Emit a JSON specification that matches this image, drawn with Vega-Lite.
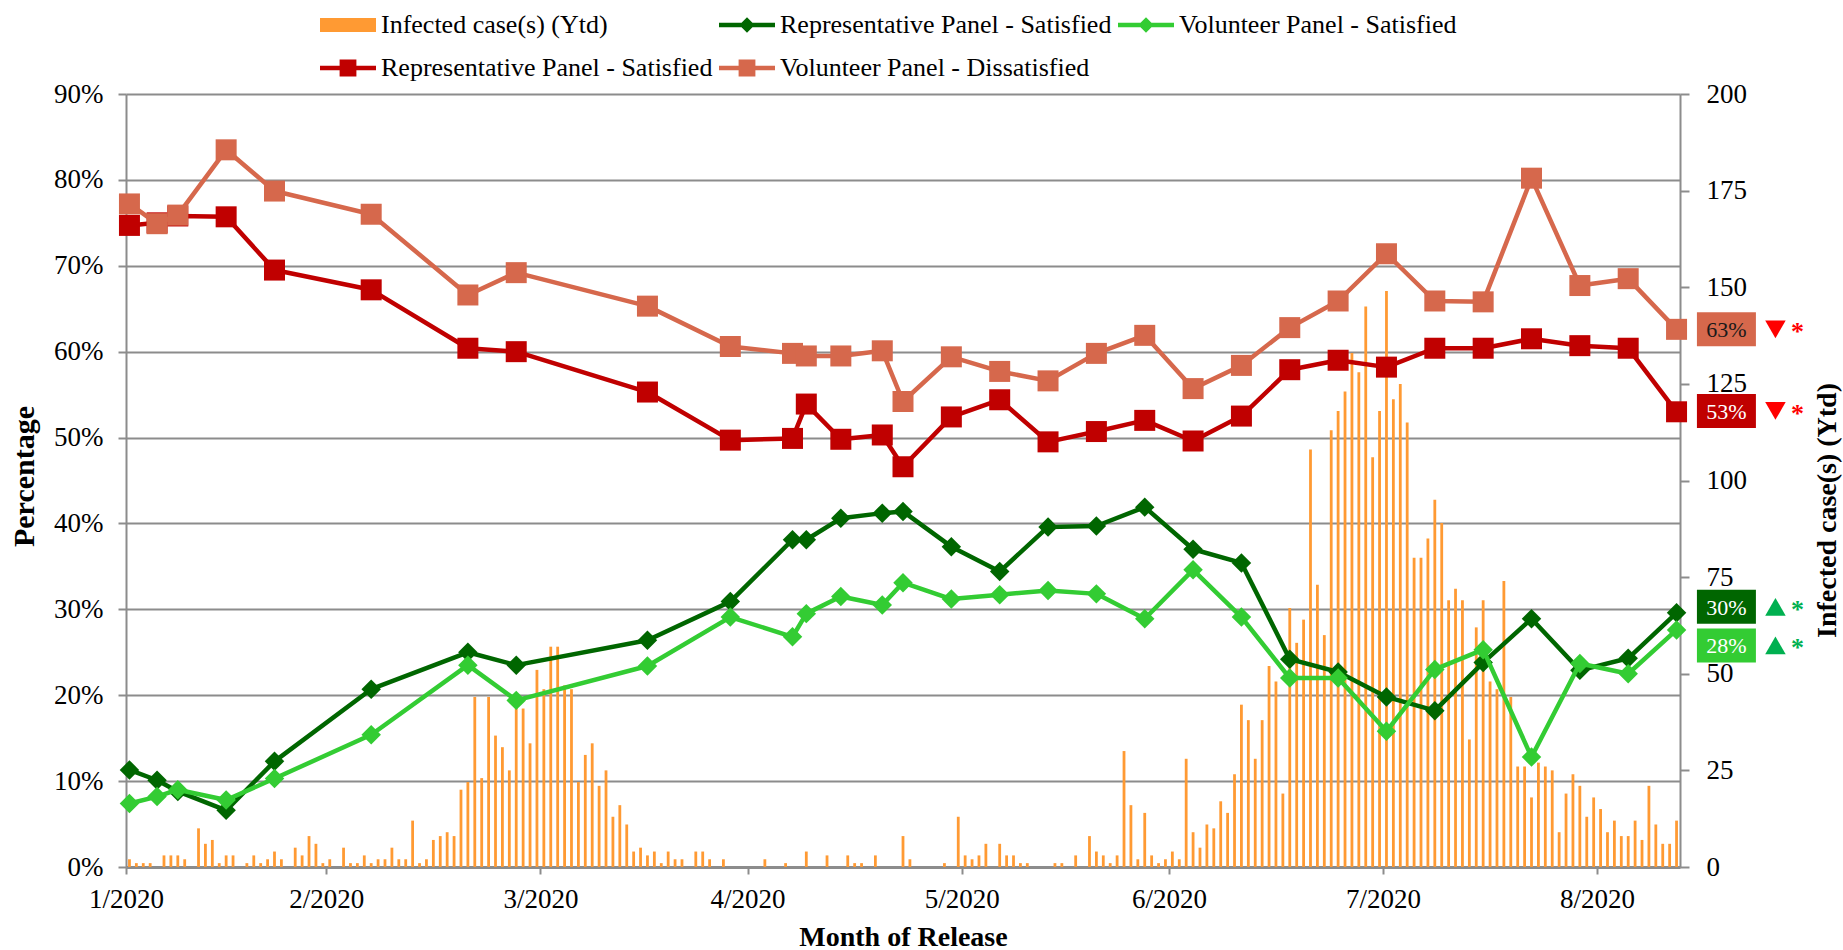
{
"$schema": "https://vega.github.io/schema/vega-lite/v6.json",
"width": 1554,
"height": 773,
"autosize": {"type": "none"},
"padding": {"left": 126, "top": 94, "right": 163, "bottom": 83},
"background": "#ffffff",
"config": {
  "view": {"stroke": null},
  "font": "Liberation Serif",
  "axis": {"labelFont": "Liberation Serif", "titleFont": "Liberation Serif", "labelColor": "#000000", "titleColor": "#000000", "labelFontSize": 27, "titleFontSize": 28, "titleFontWeight": "bold", "labelFlush": false, "labelOverlap": false, "labelBound": false, "domainColor": "#8C8C8C", "tickColor": "#8C8C8C", "gridColor": "#8C8C8C"},
  "legend": {"labelFont": "Liberation Serif"},
  "text": {"font": "Liberation Serif"}
},
"datasets": {
"cases": [
{"date":"2020-01-31","cases":2},{"date":"2020-02-01","cases":1},{"date":"2020-02-02","cases":1},{"date":"2020-02-03","cases":1},{"date":"2020-02-05","cases":3},{"date":"2020-02-06","cases":3},{"date":"2020-02-07","cases":3},{"date":"2020-02-08","cases":2},{"date":"2020-02-10","cases":10},{"date":"2020-02-11","cases":6},{"date":"2020-02-12","cases":7},{"date":"2020-02-13","cases":1},{"date":"2020-02-14","cases":3},{"date":"2020-02-15","cases":3},{"date":"2020-02-17","cases":1},{"date":"2020-02-18","cases":3},{"date":"2020-02-19","cases":1},{"date":"2020-02-20","cases":2},{"date":"2020-02-21","cases":4},{"date":"2020-02-22","cases":2},{"date":"2020-02-24","cases":5},{"date":"2020-02-25","cases":3},{"date":"2020-02-26","cases":8},{"date":"2020-02-27","cases":6},{"date":"2020-02-28","cases":1},{"date":"2020-02-29","cases":2},
{"date":"2020-03-02","cases":5},{"date":"2020-03-03","cases":1},{"date":"2020-03-04","cases":1},{"date":"2020-03-05","cases":3},{"date":"2020-03-06","cases":1},{"date":"2020-03-07","cases":2},{"date":"2020-03-08","cases":2},{"date":"2020-03-09","cases":5},{"date":"2020-03-10","cases":2},{"date":"2020-03-11","cases":2},{"date":"2020-03-12","cases":12},{"date":"2020-03-13","cases":1},{"date":"2020-03-14","cases":2},{"date":"2020-03-15","cases":7},{"date":"2020-03-16","cases":8},{"date":"2020-03-17","cases":9},{"date":"2020-03-18","cases":8},{"date":"2020-03-19","cases":20},{"date":"2020-03-20","cases":22},{"date":"2020-03-21","cases":44},{"date":"2020-03-22","cases":23},{"date":"2020-03-23","cases":44},{"date":"2020-03-24","cases":34},{"date":"2020-03-25","cases":31},{"date":"2020-03-26","cases":25},{"date":"2020-03-27","cases":44},{"date":"2020-03-28","cases":41},{"date":"2020-03-29","cases":32},{"date":"2020-03-30","cases":51},{"date":"2020-03-31","cases":46},
{"date":"2020-04-01","cases":57},{"date":"2020-04-02","cases":57},{"date":"2020-04-03","cases":47},{"date":"2020-04-04","cases":46},{"date":"2020-04-05","cases":22},{"date":"2020-04-06","cases":29},{"date":"2020-04-07","cases":32},{"date":"2020-04-08","cases":21},{"date":"2020-04-09","cases":25},{"date":"2020-04-10","cases":13},{"date":"2020-04-11","cases":16},{"date":"2020-04-12","cases":11},{"date":"2020-04-13","cases":4},{"date":"2020-04-14","cases":5},{"date":"2020-04-15","cases":3},{"date":"2020-04-16","cases":4},{"date":"2020-04-17","cases":1},{"date":"2020-04-18","cases":4},{"date":"2020-04-19","cases":2},{"date":"2020-04-20","cases":2},{"date":"2020-04-22","cases":4},{"date":"2020-04-23","cases":4},{"date":"2020-04-24","cases":2},{"date":"2020-04-26","cases":2},
{"date":"2020-05-02","cases":2},{"date":"2020-05-05","cases":1},{"date":"2020-05-08","cases":4},{"date":"2020-05-11","cases":3},{"date":"2020-05-14","cases":3},{"date":"2020-05-15","cases":1},{"date":"2020-05-16","cases":1},{"date":"2020-05-18","cases":3},{"date":"2020-05-22","cases":8},{"date":"2020-05-23","cases":2},{"date":"2020-05-28","cases":1},{"date":"2020-05-30","cases":13},{"date":"2020-05-31","cases":3},
{"date":"2020-06-01","cases":2},{"date":"2020-06-02","cases":3},{"date":"2020-06-03","cases":6},{"date":"2020-06-05","cases":6},{"date":"2020-06-06","cases":3},{"date":"2020-06-07","cases":3},{"date":"2020-06-08","cases":1},{"date":"2020-06-09","cases":1},{"date":"2020-06-13","cases":1},{"date":"2020-06-14","cases":1},{"date":"2020-06-16","cases":3},{"date":"2020-06-18","cases":8},{"date":"2020-06-19","cases":4},{"date":"2020-06-20","cases":3},{"date":"2020-06-21","cases":1},{"date":"2020-06-22","cases":3},{"date":"2020-06-23","cases":30},{"date":"2020-06-24","cases":16},{"date":"2020-06-25","cases":2},{"date":"2020-06-26","cases":14},{"date":"2020-06-27","cases":3},{"date":"2020-06-28","cases":1},{"date":"2020-06-29","cases":2},{"date":"2020-06-30","cases":4},
{"date":"2020-07-01","cases":2},{"date":"2020-07-02","cases":28},{"date":"2020-07-03","cases":9},{"date":"2020-07-04","cases":5},{"date":"2020-07-05","cases":11},{"date":"2020-07-06","cases":10},{"date":"2020-07-07","cases":17},{"date":"2020-07-08","cases":14},{"date":"2020-07-09","cases":24},{"date":"2020-07-10","cases":42},{"date":"2020-07-11","cases":38},{"date":"2020-07-12","cases":28},{"date":"2020-07-13","cases":38},{"date":"2020-07-14","cases":52},{"date":"2020-07-15","cases":48},{"date":"2020-07-16","cases":19},{"date":"2020-07-17","cases":67},{"date":"2020-07-18","cases":58},{"date":"2020-07-19","cases":64},{"date":"2020-07-20","cases":108},{"date":"2020-07-21","cases":73},{"date":"2020-07-22","cases":60},{"date":"2020-07-23","cases":113},{"date":"2020-07-24","cases":118},{"date":"2020-07-25","cases":123},{"date":"2020-07-26","cases":133},{"date":"2020-07-27","cases":128},{"date":"2020-07-28","cases":145},{"date":"2020-07-29","cases":106},{"date":"2020-07-30","cases":118},{"date":"2020-07-31","cases":149},
{"date":"2020-08-01","cases":121},{"date":"2020-08-02","cases":125},{"date":"2020-08-03","cases":115},{"date":"2020-08-04","cases":80},{"date":"2020-08-05","cases":80},{"date":"2020-08-06","cases":85},{"date":"2020-08-07","cases":95},{"date":"2020-08-08","cases":89},{"date":"2020-08-09","cases":69},{"date":"2020-08-10","cases":72},{"date":"2020-08-11","cases":69},{"date":"2020-08-12","cases":33},{"date":"2020-08-13","cases":62},{"date":"2020-08-14","cases":69},{"date":"2020-08-15","cases":48},{"date":"2020-08-16","cases":46},{"date":"2020-08-17","cases":74},{"date":"2020-08-18","cases":44},{"date":"2020-08-19","cases":26},{"date":"2020-08-20","cases":26},{"date":"2020-08-21","cases":18},{"date":"2020-08-22","cases":27},{"date":"2020-08-23","cases":26},{"date":"2020-08-24","cases":25},{"date":"2020-08-25","cases":9},{"date":"2020-08-26","cases":19},{"date":"2020-08-27","cases":24},{"date":"2020-08-28","cases":21},{"date":"2020-08-29","cases":13},{"date":"2020-08-30","cases":18},{"date":"2020-08-31","cases":15},
{"date":"2020-09-01","cases":9},{"date":"2020-09-02","cases":12},{"date":"2020-09-03","cases":8},{"date":"2020-09-04","cases":8},{"date":"2020-09-05","cases":12},{"date":"2020-09-06","cases":7},{"date":"2020-09-07","cases":21},{"date":"2020-09-08","cases":11},{"date":"2020-09-09","cases":6},{"date":"2020-09-10","cases":6},{"date":"2020-09-11","cases":12}
],
"survey": [
{"date":"2020-01-31","series":"Representative Panel - Satisfied","pct":11.3},{"date":"2020-02-04","series":"Representative Panel - Satisfied","pct":10.1},{"date":"2020-02-07","series":"Representative Panel - Satisfied","pct":8.8},{"date":"2020-02-14","series":"Representative Panel - Satisfied","pct":6.6},{"date":"2020-02-21","series":"Representative Panel - Satisfied","pct":12.3},{"date":"2020-03-06","series":"Representative Panel - Satisfied","pct":20.7},{"date":"2020-03-20","series":"Representative Panel - Satisfied","pct":25.0},{"date":"2020-03-27","series":"Representative Panel - Satisfied","pct":23.5},{"date":"2020-04-15","series":"Representative Panel - Satisfied","pct":26.4},{"date":"2020-04-27","series":"Representative Panel - Satisfied","pct":30.9},{"date":"2020-05-06","series":"Representative Panel - Satisfied","pct":38.1},{"date":"2020-05-08","series":"Representative Panel - Satisfied","pct":38.1},{"date":"2020-05-13","series":"Representative Panel - Satisfied","pct":40.6},{"date":"2020-05-19","series":"Representative Panel - Satisfied","pct":41.2},{"date":"2020-05-22","series":"Representative Panel - Satisfied","pct":41.4},{"date":"2020-05-29","series":"Representative Panel - Satisfied","pct":37.3},{"date":"2020-06-05","series":"Representative Panel - Satisfied","pct":34.4},{"date":"2020-06-12","series":"Representative Panel - Satisfied","pct":39.6},{"date":"2020-06-19","series":"Representative Panel - Satisfied","pct":39.7},{"date":"2020-06-26","series":"Representative Panel - Satisfied","pct":41.9},{"date":"2020-07-03","series":"Representative Panel - Satisfied","pct":37.0},{"date":"2020-07-10","series":"Representative Panel - Satisfied","pct":35.4},{"date":"2020-07-17","series":"Representative Panel - Satisfied","pct":24.2},{"date":"2020-07-24","series":"Representative Panel - Satisfied","pct":22.7},{"date":"2020-07-31","series":"Representative Panel - Satisfied","pct":19.8},{"date":"2020-08-07","series":"Representative Panel - Satisfied","pct":18.2},{"date":"2020-08-14","series":"Representative Panel - Satisfied","pct":23.8},{"date":"2020-08-21","series":"Representative Panel - Satisfied","pct":28.9},{"date":"2020-08-28","series":"Representative Panel - Satisfied","pct":22.9},{"date":"2020-09-04","series":"Representative Panel - Satisfied","pct":24.3},{"date":"2020-09-11","series":"Representative Panel - Satisfied","pct":29.6},
{"date":"2020-01-31","series":"Volunteer Panel - Satisfied","pct":7.4},{"date":"2020-02-04","series":"Volunteer Panel - Satisfied","pct":8.2},{"date":"2020-02-07","series":"Volunteer Panel - Satisfied","pct":9.0},{"date":"2020-02-14","series":"Volunteer Panel - Satisfied","pct":7.8},{"date":"2020-02-21","series":"Volunteer Panel - Satisfied","pct":10.3},{"date":"2020-03-06","series":"Volunteer Panel - Satisfied","pct":15.4},{"date":"2020-03-20","series":"Volunteer Panel - Satisfied","pct":23.5},{"date":"2020-03-27","series":"Volunteer Panel - Satisfied","pct":19.4},{"date":"2020-04-15","series":"Volunteer Panel - Satisfied","pct":23.4},{"date":"2020-04-27","series":"Volunteer Panel - Satisfied","pct":29.1},{"date":"2020-05-06","series":"Volunteer Panel - Satisfied","pct":26.8},{"date":"2020-05-08","series":"Volunteer Panel - Satisfied","pct":29.5},{"date":"2020-05-13","series":"Volunteer Panel - Satisfied","pct":31.5},{"date":"2020-05-19","series":"Volunteer Panel - Satisfied","pct":30.5},{"date":"2020-05-22","series":"Volunteer Panel - Satisfied","pct":33.1},{"date":"2020-05-29","series":"Volunteer Panel - Satisfied","pct":31.2},{"date":"2020-06-05","series":"Volunteer Panel - Satisfied","pct":31.7},{"date":"2020-06-12","series":"Volunteer Panel - Satisfied","pct":32.2},{"date":"2020-06-19","series":"Volunteer Panel - Satisfied","pct":31.8},{"date":"2020-06-26","series":"Volunteer Panel - Satisfied","pct":28.9},{"date":"2020-07-03","series":"Volunteer Panel - Satisfied","pct":34.6},{"date":"2020-07-10","series":"Volunteer Panel - Satisfied","pct":29.1},{"date":"2020-07-17","series":"Volunteer Panel - Satisfied","pct":22.0},{"date":"2020-07-24","series":"Volunteer Panel - Satisfied","pct":22.0},{"date":"2020-07-31","series":"Volunteer Panel - Satisfied","pct":15.8},{"date":"2020-08-07","series":"Volunteer Panel - Satisfied","pct":23.0},{"date":"2020-08-14","series":"Volunteer Panel - Satisfied","pct":25.3},{"date":"2020-08-21","series":"Volunteer Panel - Satisfied","pct":12.8},{"date":"2020-08-28","series":"Volunteer Panel - Satisfied","pct":23.7},{"date":"2020-09-04","series":"Volunteer Panel - Satisfied","pct":22.5},{"date":"2020-09-11","series":"Volunteer Panel - Satisfied","pct":27.6},
{"date":"2020-01-31","series":"Representative Panel - Dissatisfied","pct":74.7},{"date":"2020-02-04","series":"Representative Panel - Dissatisfied","pct":75.0},{"date":"2020-02-07","series":"Representative Panel - Dissatisfied","pct":75.8},{"date":"2020-02-14","series":"Representative Panel - Dissatisfied","pct":75.7},{"date":"2020-02-21","series":"Representative Panel - Dissatisfied","pct":69.5},{"date":"2020-03-06","series":"Representative Panel - Dissatisfied","pct":67.2},{"date":"2020-03-20","series":"Representative Panel - Dissatisfied","pct":60.4},{"date":"2020-03-27","series":"Representative Panel - Dissatisfied","pct":60.0},{"date":"2020-04-15","series":"Representative Panel - Dissatisfied","pct":55.3},{"date":"2020-04-27","series":"Representative Panel - Dissatisfied","pct":49.7},{"date":"2020-05-06","series":"Representative Panel - Dissatisfied","pct":49.9},{"date":"2020-05-08","series":"Representative Panel - Dissatisfied","pct":53.9},{"date":"2020-05-13","series":"Representative Panel - Dissatisfied","pct":49.8},{"date":"2020-05-19","series":"Representative Panel - Dissatisfied","pct":50.3},{"date":"2020-05-22","series":"Representative Panel - Dissatisfied","pct":46.6},{"date":"2020-05-29","series":"Representative Panel - Dissatisfied","pct":52.4},{"date":"2020-06-05","series":"Representative Panel - Dissatisfied","pct":54.4},{"date":"2020-06-12","series":"Representative Panel - Dissatisfied","pct":49.5},{"date":"2020-06-19","series":"Representative Panel - Dissatisfied","pct":50.7},{"date":"2020-06-26","series":"Representative Panel - Dissatisfied","pct":52.0},{"date":"2020-07-03","series":"Representative Panel - Dissatisfied","pct":49.6},{"date":"2020-07-10","series":"Representative Panel - Dissatisfied","pct":52.5},{"date":"2020-07-17","series":"Representative Panel - Dissatisfied","pct":57.9},{"date":"2020-07-24","series":"Representative Panel - Dissatisfied","pct":59.0},{"date":"2020-07-31","series":"Representative Panel - Dissatisfied","pct":58.2},{"date":"2020-08-07","series":"Representative Panel - Dissatisfied","pct":60.4},{"date":"2020-08-14","series":"Representative Panel - Dissatisfied","pct":60.4},{"date":"2020-08-21","series":"Representative Panel - Dissatisfied","pct":61.5},{"date":"2020-08-28","series":"Representative Panel - Dissatisfied","pct":60.7},{"date":"2020-09-04","series":"Representative Panel - Dissatisfied","pct":60.4},{"date":"2020-09-11","series":"Representative Panel - Dissatisfied","pct":53.0},
{"date":"2020-01-31","series":"Volunteer Panel - Dissatisfied","pct":77.2},{"date":"2020-02-04","series":"Volunteer Panel - Dissatisfied","pct":74.9},{"date":"2020-02-07","series":"Volunteer Panel - Dissatisfied","pct":75.9},{"date":"2020-02-14","series":"Volunteer Panel - Dissatisfied","pct":83.5},{"date":"2020-02-21","series":"Volunteer Panel - Dissatisfied","pct":78.7},{"date":"2020-03-06","series":"Volunteer Panel - Dissatisfied","pct":76.0},{"date":"2020-03-20","series":"Volunteer Panel - Dissatisfied","pct":66.6},{"date":"2020-03-27","series":"Volunteer Panel - Dissatisfied","pct":69.2},{"date":"2020-04-15","series":"Volunteer Panel - Dissatisfied","pct":65.3},{"date":"2020-04-27","series":"Volunteer Panel - Dissatisfied","pct":60.6},{"date":"2020-05-06","series":"Volunteer Panel - Dissatisfied","pct":59.8},{"date":"2020-05-08","series":"Volunteer Panel - Dissatisfied","pct":59.5},{"date":"2020-05-13","series":"Volunteer Panel - Dissatisfied","pct":59.5},{"date":"2020-05-19","series":"Volunteer Panel - Dissatisfied","pct":60.1},{"date":"2020-05-22","series":"Volunteer Panel - Dissatisfied","pct":54.2},{"date":"2020-05-29","series":"Volunteer Panel - Dissatisfied","pct":59.4},{"date":"2020-06-05","series":"Volunteer Panel - Dissatisfied","pct":57.7},{"date":"2020-06-12","series":"Volunteer Panel - Dissatisfied","pct":56.6},{"date":"2020-06-19","series":"Volunteer Panel - Dissatisfied","pct":59.8},{"date":"2020-06-26","series":"Volunteer Panel - Dissatisfied","pct":61.9},{"date":"2020-07-03","series":"Volunteer Panel - Dissatisfied","pct":55.7},{"date":"2020-07-10","series":"Volunteer Panel - Dissatisfied","pct":58.4},{"date":"2020-07-17","series":"Volunteer Panel - Dissatisfied","pct":62.8},{"date":"2020-07-24","series":"Volunteer Panel - Dissatisfied","pct":65.9},{"date":"2020-07-31","series":"Volunteer Panel - Dissatisfied","pct":71.4},{"date":"2020-08-07","series":"Volunteer Panel - Dissatisfied","pct":65.9},{"date":"2020-08-14","series":"Volunteer Panel - Dissatisfied","pct":65.8},{"date":"2020-08-21","series":"Volunteer Panel - Dissatisfied","pct":80.2},{"date":"2020-08-28","series":"Volunteer Panel - Dissatisfied","pct":67.7},{"date":"2020-09-04","series":"Volunteer Panel - Dissatisfied","pct":68.5},{"date":"2020-09-11","series":"Volunteer Panel - Dissatisfied","pct":62.6}
],
"endlabels": [
{"series":"Volunteer Panel - Dissatisfied","label":"63%","pct":62.6,"change":"down"},
{"series":"Representative Panel - Dissatisfied","label":"53%","pct":53.1,"change":"down"},
{"series":"Representative Panel - Satisfied","label":"30%","pct":30.3,"change":"up"},
{"series":"Volunteer Panel - Satisfied","label":"28%","pct":25.8,"change":"up"}
]
},
"resolve": {"scale": {"y": "independent"}, "axis": {"y": "independent"}},
"layer": [
{
  "data": {"name": "cases"},
  "mark": {"type": "rule", "color": "#FF9A33", "strokeWidth": 2.8},
  "encoding": {
    "x": {"field": "date", "type": "temporal", "timeUnit": "utcyearmonthdate", "bandPosition": 0.5,
      "scale": {"type": "utc", "domain": [{"year":2020,"month":1,"date":31,"utc":true},{"year":2020,"month":9,"date":12,"utc":true}]},
      "axis": {"values": [{"year":2020,"month":1,"date":31,"utc":true},{"year":2020,"month":2,"date":29,"utc":true},{"year":2020,"month":3,"date":31,"utc":true},{"year":2020,"month":4,"date":30,"utc":true},{"year":2020,"month":5,"date":31,"utc":true},{"year":2020,"month":6,"date":30,"utc":true},{"year":2020,"month":7,"date":31,"utc":true},{"year":2020,"month":8,"date":31,"utc":true}],
        "labelExpr": "utcFormat(datum.value, '%-m/%Y')", "grid": false, "tickSize": 7, "tickWidth": 2, "domainWidth": 3, "labelPadding": 12,
        "title": "Month of Release", "titleY": 70, "titleBaseline": "middle"}},
    "y": {"field": "cases", "type": "quantitative", "scale": {"domain": [0, 200], "nice": false},
      "axis": {"orient": "right", "values": [0,25,50,75,100,125,150,175,200], "grid": false, "tickSize": 9, "tickWidth": 2, "domainWidth": 2, "labelPadding": 17,
        "title": "Infected case(s) (Ytd)", "titleAngle": 270, "titleAlign": "center", "titleBaseline": "middle", "titleX": 147, "titleY": 416}},
    "y2": {"datum": 0}
  }
},
{
  "encoding": {
    "y": {"field": "pct", "type": "quantitative", "scale": {"domain": [0, 90], "nice": false},
      "axis": {"orient": "left", "values": [0,10,20,30,40,50,60,70,80,90], "labelExpr": "datum.value + '%'", "grid": true, "gridWidth": 2, "tickSize": 8, "tickWidth": 2, "domainWidth": 2, "labelPadding": 15,
        "title": "Percentage", "titleFontSize": 30, "titleAngle": 270, "titleAlign": "center", "titleBaseline": "middle", "titleX": -102, "titleY": 382}}
  },
  "layer": [
    {
      "data": {"name": "survey"},
      "mark": {"type": "point", "filled": true, "opacity": 0},
      "encoding": {
        "x": {"field": "date", "type": "temporal", "timeUnit": "utcyearmonthdate", "bandPosition": 0.5, "scale": {"type": "utc", "domain": [{"year":2020,"month":1,"date":31,"utc":true},{"year":2020,"month":9,"date":12,"utc":true}]}},
        "color": {"field": "series", "type": "nominal",
          "scale": {"domain": ["Infected case(s) (Ytd)", "Representative Panel - Satisfied", "Volunteer Panel - Satisfied", "Representative Panel - Dissatisfied", "Volunteer Panel - Dissatisfied"], "range": ["#FF9A33", "#006600", "#33CC33", "#C00000", "#D6684C"]},
          "legend": {"title": null, "orient": "none", "legendX": 194, "legendY": -83, "direction": "horizontal", "columns": 3, "columnPadding": 6, "rowPadding": 16, "padding": 0, "symbolSize": 784, "symbolStrokeWidth": 0, "symbolOffset": 14, "symbolOpacity": 1, "labelOffset": 19, "labelFontSize": 26, "labelColor": "#000000", "labelLimit": 600,
            "labelExpr": "datum.label == 'Representative Panel - Dissatisfied' ? 'Representative Panel - Satisfied' : datum.label"}},
        "shape": {"field": "series", "type": "nominal",
          "scale": {"domain": ["Infected case(s) (Ytd)", "Representative Panel - Satisfied", "Volunteer Panel - Satisfied", "Representative Panel - Dissatisfied", "Volunteer Panel - Dissatisfied"],
            "range": ["M-2,-0.5H2V0.5H-2Z", "M-2,-0.16H2V0.16H-2Z M0,-0.55L0.55,0L0,0.55L-0.55,0Z", "M-2,-0.16H2V0.16H-2Z M0,-0.55L0.55,0L0,0.55L-0.55,0Z", "M-2,-0.16H2V0.16H-2Z M-0.6,-0.6H0.6V0.6H-0.6Z", "M-2,-0.16H2V0.16H-2Z M-0.6,-0.6H0.6V0.6H-0.6Z"]},
          "legend": {"title": null, "orient": "none", "legendX": 194, "legendY": -83, "direction": "horizontal", "columns": 3, "columnPadding": 6, "rowPadding": 16, "padding": 0, "symbolSize": 784, "symbolStrokeWidth": 0, "symbolOffset": 14, "symbolOpacity": 1, "labelOffset": 19, "labelFontSize": 26, "labelColor": "#000000", "labelLimit": 600,
            "labelExpr": "datum.label == 'Representative Panel - Dissatisfied' ? 'Representative Panel - Satisfied' : datum.label"}}
      }
    },
    {
      "data": {"name": "survey"},
      "transform": [{"filter": "datum.series == 'Representative Panel - Satisfied'"}],
      "mark": {"type": "line", "color": "#006600", "strokeWidth": 4.5, "strokeJoin": "round", "point": {"filled": true, "shape": "diamond", "size": 380, "color": "#006600"}},
      "encoding": {"x": {"field": "date", "type": "temporal", "timeUnit": "utcyearmonthdate", "bandPosition": 0.5, "scale": {"type": "utc", "domain": [{"year":2020,"month":1,"date":31,"utc":true},{"year":2020,"month":9,"date":12,"utc":true}]}}}
    },
    {
      "data": {"name": "survey"},
      "transform": [{"filter": "datum.series == 'Volunteer Panel - Satisfied'"}],
      "mark": {"type": "line", "color": "#33CC33", "strokeWidth": 4.5, "strokeJoin": "round", "point": {"filled": true, "shape": "diamond", "size": 380, "color": "#33CC33"}},
      "encoding": {"x": {"field": "date", "type": "temporal", "timeUnit": "utcyearmonthdate", "bandPosition": 0.5, "scale": {"type": "utc", "domain": [{"year":2020,"month":1,"date":31,"utc":true},{"year":2020,"month":9,"date":12,"utc":true}]}}}
    },
    {
      "data": {"name": "survey"},
      "transform": [{"filter": "datum.series == 'Representative Panel - Dissatisfied'"}],
      "mark": {"type": "line", "color": "#C00000", "strokeWidth": 4.5, "strokeJoin": "round", "point": {"filled": true, "shape": "square", "size": 441, "color": "#C00000"}},
      "encoding": {"x": {"field": "date", "type": "temporal", "timeUnit": "utcyearmonthdate", "bandPosition": 0.5, "scale": {"type": "utc", "domain": [{"year":2020,"month":1,"date":31,"utc":true},{"year":2020,"month":9,"date":12,"utc":true}]}}}
    },
    {
      "data": {"name": "survey"},
      "transform": [{"filter": "datum.series == 'Volunteer Panel - Dissatisfied'"}],
      "mark": {"type": "line", "color": "#D6684C", "strokeWidth": 4.5, "strokeJoin": "round", "point": {"filled": true, "shape": "square", "size": 441, "color": "#D6684C"}},
      "encoding": {"x": {"field": "date", "type": "temporal", "timeUnit": "utcyearmonthdate", "bandPosition": 0.5, "scale": {"type": "utc", "domain": [{"year":2020,"month":1,"date":31,"utc":true},{"year":2020,"month":9,"date":12,"utc":true}]}}}
    },
    {
      "data": {"name": "endlabels"},
      "mark": {"type": "point", "filled": true, "opacity": 1, "shape": "M-1.735,-1H1.735V1H-1.735Z", "size": 1156},
      "encoding": {
        "x": {"datum": {"year":2020,"month":9,"date":18,"hours":17,"minutes":18,"utc":true}, "type": "temporal", "scale": {"type": "utc", "domain": [{"year":2020,"month":1,"date":31,"utc":true},{"year":2020,"month":9,"date":12,"utc":true}]}},
        "fill": {"field": "series", "type": "nominal", "scale": {"domain": ["Representative Panel - Satisfied", "Volunteer Panel - Satisfied", "Representative Panel - Dissatisfied", "Volunteer Panel - Dissatisfied"], "range": ["#006600", "#33CC33", "#C00000", "#D6684C"]}, "legend": null}
      }
    },
    {
      "data": {"name": "endlabels"},
      "mark": {"type": "text", "fontSize": 22, "font": "Liberation Serif", "align": "center", "baseline": "middle", "dy": 1},
      "encoding": {
        "x": {"datum": {"year":2020,"month":9,"date":18,"hours":17,"minutes":18,"utc":true}, "type": "temporal", "scale": {"type": "utc", "domain": [{"year":2020,"month":1,"date":31,"utc":true},{"year":2020,"month":9,"date":12,"utc":true}]}},
        "text": {"field": "label"},
        "color": {"condition": {"test": "datum.label == '63%'", "value": "#1A1A1A"}, "value": "#FFFFFF"}
      }
    },
    {
      "data": {"name": "endlabels"},
      "mark": {"type": "point", "filled": true, "opacity": 1, "size": 420},
      "encoding": {
        "x": {"datum": {"year":2020,"month":9,"date":25,"hours":19,"minutes":40,"utc":true}, "type": "temporal", "scale": {"type": "utc", "domain": [{"year":2020,"month":1,"date":31,"utc":true},{"year":2020,"month":9,"date":12,"utc":true}]}},
        "shape": {"condition": {"test": "datum.change == 'down'", "value": "triangle-down"}, "value": "triangle-up"},
        "color": {"condition": {"test": "datum.change == 'down'", "value": "#FF0000"}, "value": "#00B050"}
      }
    },
    {
      "data": {"name": "endlabels"},
      "mark": {"type": "text", "text": "*", "fontSize": 26, "fontWeight": "bold", "font": "Liberation Serif", "align": "center", "baseline": "middle", "dy": 3},
      "encoding": {
        "x": {"datum": {"year":2020,"month":9,"date":29,"utc":true}, "type": "temporal", "scale": {"type": "utc", "domain": [{"year":2020,"month":1,"date":31,"utc":true},{"year":2020,"month":9,"date":12,"utc":true}]}},
        "color": {"condition": {"test": "datum.change == 'down'", "value": "#FF0000"}, "value": "#00B050"}
      }
    }
  ]
}
]
}
